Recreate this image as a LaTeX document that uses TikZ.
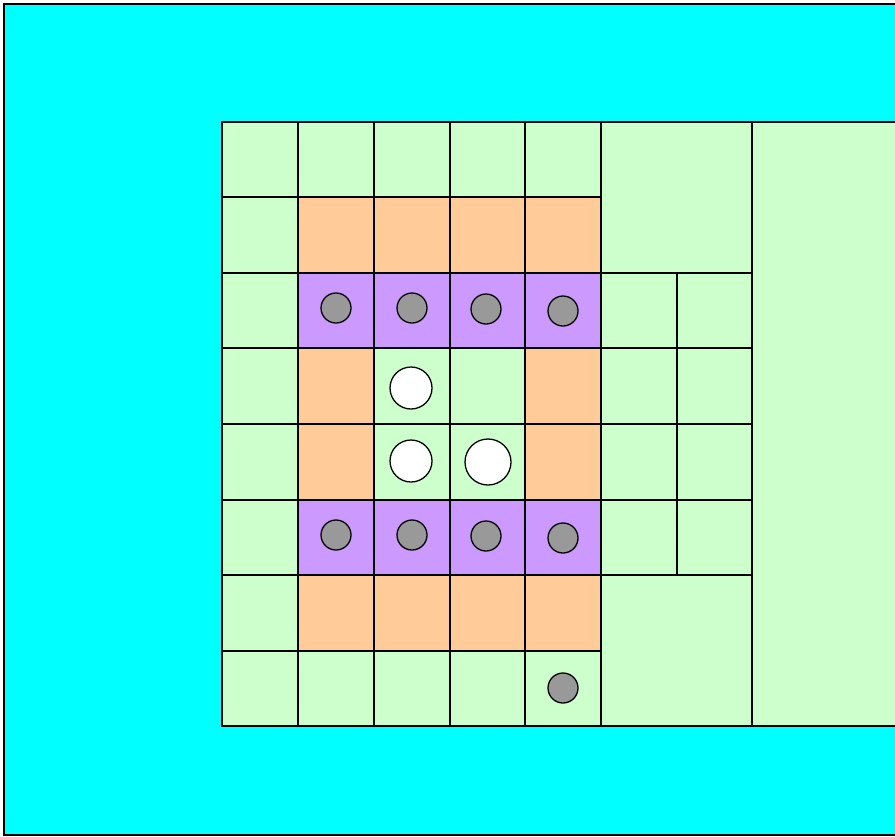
\documentclass[tikz,border=0pt]{standalone}
\usepackage{tikz}
\definecolor{sea}{RGB}{0,255,255}
\definecolor{cellgreen}{RGB}{204,255,204}
\definecolor{cellorange}{RGB}{255,204,153}
\definecolor{cellpurple}{RGB}{204,153,255}
\definecolor{dotgray}{RGB}{153,153,153}
\def\colx{{222,298,374,450,525,601,677,752}}
\def\rowy{{122,197,273,348,424,500,575,651,726}}

\begin{document}
\begin{tikzpicture}[x=0.03cm, y=-0.03cm, line width=1.3pt,
			green/.style={fill=cellgreen},
			orange/.style={fill=cellorange},
			purple/.style={fill=cellpurple},
			dot/.style={draw=black, fill=dotgray, line width=1.1pt},
			hole/.style={draw=black, fill=white, line width=1.1pt}]
			
			\useasboundingbox (0,0) rectangle (895,836);
			\clip (0,0) rectangle (895,836);
			
			% outer field
			\draw[fill=sea] (4,4) rectangle (920,835);
			
			% small cells: column / row / style
			\foreach \c/\r/\s in {0/0/green,1/0/green,2/0/green,3/0/green,4/0/green,
				0/1/green,1/1/orange,2/1/orange,3/1/orange,4/1/orange,
				0/2/green,1/2/purple,2/2/purple,3/2/purple,4/2/purple,5/2/green,6/2/green,
				0/3/green,1/3/orange,2/3/green,3/3/green,4/3/orange,5/3/green,6/3/green,
				0/4/green,1/4/orange,2/4/green,3/4/green,4/4/orange,5/4/green,6/4/green,
				0/5/green,1/5/purple,2/5/purple,3/5/purple,4/5/purple,5/5/green,6/5/green,
				0/6/green,1/6/orange,2/6/orange,3/6/orange,4/6/orange,
				0/7/green,1/7/green,2/7/green,3/7/green,4/7/green}
			{
				\pgfmathsetmacro\xa{\colx[\c]}
				\pgfmathsetmacro\xb{\colx[\c+1]}
				\pgfmathsetmacro\ya{\rowy[\r]}
				\pgfmathsetmacro\yb{\rowy[\r+1]}
				\path[\s] (\xa,\ya) rectangle (\xb,\yb);
				\coordinate (c\c-\r) at (\xa,\ya);
				\coordinate (d\c-\r) at (\xb,\yb);
			}
			
			% large cells
			\path[green] (601,122) rectangle (752,273);
			\path[green] (601,575) rectangle (752,726);
			\path[green] (752,122) rectangle (920,726);
			
			% outlines
			\foreach \c/\r in {0/0,1/0,2/0,3/0,4/0,
				0/1,1/1,2/1,3/1,4/1,
				0/2,1/2,2/2,3/2,4/2,5/2,6/2,
				0/3,1/3,2/3,3/3,4/3,5/3,6/3,
				0/4,1/4,2/4,3/4,4/4,5/4,6/4,
				0/5,1/5,2/5,3/5,4/5,5/5,6/5,
				0/6,1/6,2/6,3/6,4/6,
				0/7,1/7,2/7,3/7,4/7}
			\draw (c\c-\r) rectangle (d\c-\r);
			\draw (601,122) rectangle (752,273);
			\draw (601,575) rectangle (752,726);
			\draw (752,122) rectangle (920,726);
			
			% grey markers
			\foreach \x/\y in {336/308,412/308,486/309,563/311,
				336/535,412/535,486/536,563/538,563/688}
			\draw[dot] (\x,\y) circle[radius=15];
			
			% white markers
			\draw[hole] (411,388) circle[radius=21];
			\draw[hole] (411,461) circle[radius=21];
			\draw[hole] (488,462) circle[radius=23];
		\end{tikzpicture}
\end{document}
